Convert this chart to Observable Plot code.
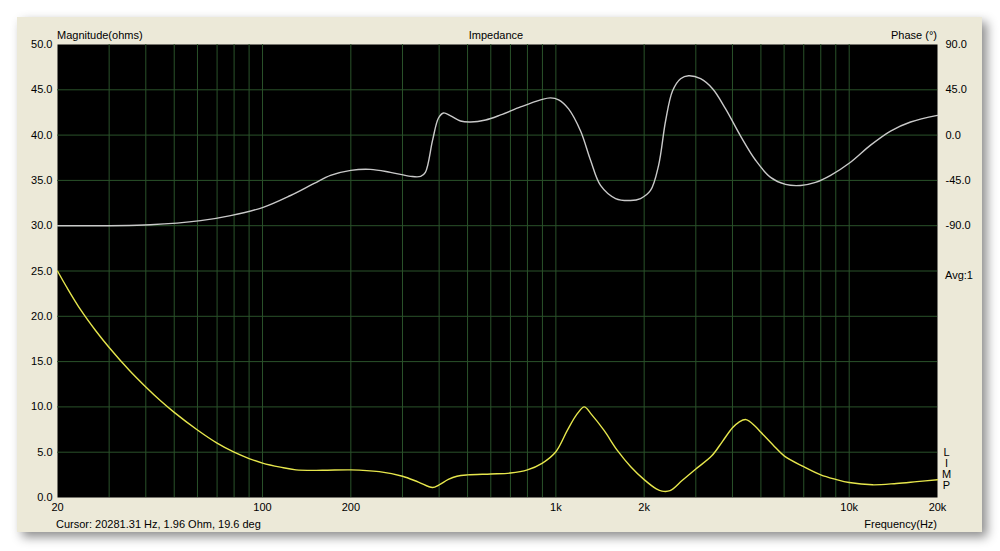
<!DOCTYPE html>
<html>
<head>
<meta charset="utf-8">
<script src="https://cdn.jsdelivr.net/npm/d3@7"></script>
<script src="https://cdn.jsdelivr.net/npm/@observablehq/plot@0.6"></script>
<style>
  html, body { margin: 0; padding: 0; background: #ffffff; }
  body { width: 1000px; height: 551px; position: relative; overflow: hidden;
         font-family: "Liberation Sans", Arial, sans-serif; font-size: 11px; color: #000; }
  #panel { position: absolute; left: 17px; top: 17px; width: 965px; height: 515px;
           background: #ece9d8; box-shadow: 5px 5px 10px rgba(0,0,0,0.45); }
  #chart { position: absolute; left: 0; top: 0; }
  .lbl { position: absolute; line-height: 13px; white-space: nowrap; }
</style>
</head>
<body>
<div id="panel"></div>
<div id="chart"></div>
<div class="lbl" style="left:57px; top:29px;">Magnitude(ohms)</div>
<div class="lbl" style="left:396px; width:200px; text-align:center; top:29px;">Impedance</div>
<div class="lbl" style="right:63px; top:29px;">Phase (°)</div>
<div class="lbl" style="left:945px; top:269px;">Avg:1</div>
<div class="lbl" style="left:941px; top:447px; width:11px; text-align:center; line-height:11px;">L<br>I<br>M<br>P</div>
<div class="lbl" style="left:56px; top:518px;">Cursor: 20281.31 Hz, 1.96 Ohm, 19.6 deg</div>
<div class="lbl" style="right:63px; top:518px;">Frequency(Hz)</div>
<script>
// Frequency axis tick labels (Hz)
const xTicks = [20, 50, 100, 200, 500, 1000, 2000, 5000, 10000, 20000];
// vertical grid lines (Hz)
const xGrid = [30, 40, 50, 60, 70, 80, 90, 100, 200, 300, 400, 500, 600, 700, 800, 900,
               1000, 2000, 3000, 4000, 5000, 6000, 7000, 8000, 9000, 10000];
// magnitude axis ticks (ohms)
const yTicks = [0, 5, 10, 15, 20, 25, 30, 35, 40, 45, 50];
// phase axis ticks (degrees)
const phaseTicks = [90, 45, 0, -45, -90];

// Magnitude (ohms) vs frequency
const magFreq = [20, 21.6, 24, 27, 30, 35, 40, 45, 50, 60, 70, 80, 90, 100, 115, 130, 160, 200, 250, 300, 340, 380, 400,
  430, 460, 500, 600, 700, 800, 900, 1000, 1094, 1180, 1250, 1320, 1460, 1620, 1800, 2000, 2200,
  2300, 2450, 2700, 3000, 3400, 3700, 4000, 4200, 4450, 4800, 5000, 5500, 6000, 7000, 8000, 9000, 10000,
  12000, 14500, 17000, 20000];
const magOhm = [25.0, 23.1, 20.7, 18.4, 16.55, 14.1, 12.2, 10.65, 9.4, 7.45, 6.0, 5.0, 4.3, 3.8, 3.35, 3.05, 3.0, 3.05, 2.85, 2.35, 1.7, 1.1, 1.4,
  2.0, 2.35, 2.5, 2.6, 2.7, 3.05, 3.8, 5.05, 7.4, 9.2, 10.0, 9.2, 7.4, 5.2, 3.4, 1.97, 0.95,
  0.7, 0.75, 1.9, 3.15, 4.6, 6.2, 7.7, 8.3, 8.6, 7.8, 7.2, 5.8, 4.6, 3.4, 2.5, 2.0, 1.65,
  1.4, 1.55, 1.75, 1.96];

// Phase (degrees) vs frequency
const phaseFreq = [20, 41.5, 61.5, 77.8, 100, 124.6, 150, 170.5, 200, 233, 273, 320, 346, 359, 380, 398, 414,
  438, 473, 512, 576, 648, 758, 887, 959, 1022, 1105, 1214, 1313, 1420, 1598, 1798, 1944, 2102, 2240,
  2366, 2500, 2662, 2834, 3115, 3422, 3790, 4264, 4796, 5395, 6068, 6830, 7678, 8642, 10106, 11828,
  13836, 16190, 20000];
const phaseDeg = [-90, -89, -85, -80, -72, -60, -48, -40, -35, -34, -37, -41, -41, -37, -5, 17, 22,
  19, 14, 13, 15, 20, 28, 35, 37, 35, 26, 4, -25, -50, -63, -65, -63, -55, -30,
  14, 44, 56, 59, 56, 46, 26, -1, -25, -42, -49, -50, -47, -40, -27, -10,
  4, 13, 19.6];

const mag = magFreq.map((f, i) => ({f, v: magOhm[i]}));
const phase = phaseFreq.map((f, i) => ({f, deg: phaseDeg[i]}));

// phase is drawn on the upper part of the magnitude scale: +90° ↔ 50 Ω, -90° ↔ 30 Ω
const phaseToOhm = d => 40 + d / 9;

const gridColor = "#2a522a";
const fmtHz = d => d >= 1000 ? (d / 1000) + "k" : String(d);

const plot = Plot.plot({
  width: 1000,
  height: 551,
  marginLeft: 57,
  marginRight: 63,
  marginTop: 44,
  marginBottom: 54,
  x: {type: "log", domain: [20, 20000]},
  y: {domain: [0, 50]},
  style: {background: "transparent", fontFamily: "Liberation Sans, Arial, sans-serif", fontSize: "11px", color: "#000", overflow: "visible"},
  marks: [
    Plot.frame({fill: "black", stroke: null}),
    Plot.ruleX(xGrid, {stroke: gridColor, strokeWidth: 1}),
    Plot.ruleY(yTicks.filter(d => d > 0 && d < 50), {stroke: gridColor, strokeWidth: 1}),
    Plot.line(phase, {x: "f", y: d => phaseToOhm(d.deg), stroke: "#c9c9c9", strokeWidth: 1.4, curve: "catmull-rom"}),
    Plot.line(mag, {x: "f", y: "v", stroke: "#e6e64c", strokeWidth: 1.4, curve: "catmull-rom"}),
    Plot.axisX(xTicks, {tickSize: 0, tickPadding: 6, tickFormat: fmtHz, label: null}),
    Plot.axisY(yTicks, {anchor: "left", tickSize: 0, tickPadding: 5, tickFormat: d => d.toFixed(1), label: null}),
    Plot.axisY(phaseTicks.map(phaseToOhm), {anchor: "right", tickSize: 0, tickPadding: 8,
      tickFormat: d => ((d - 40) * 9).toFixed(1), label: null})
  ]
});
document.getElementById("chart").appendChild(plot);
</script>
</body>
</html>
